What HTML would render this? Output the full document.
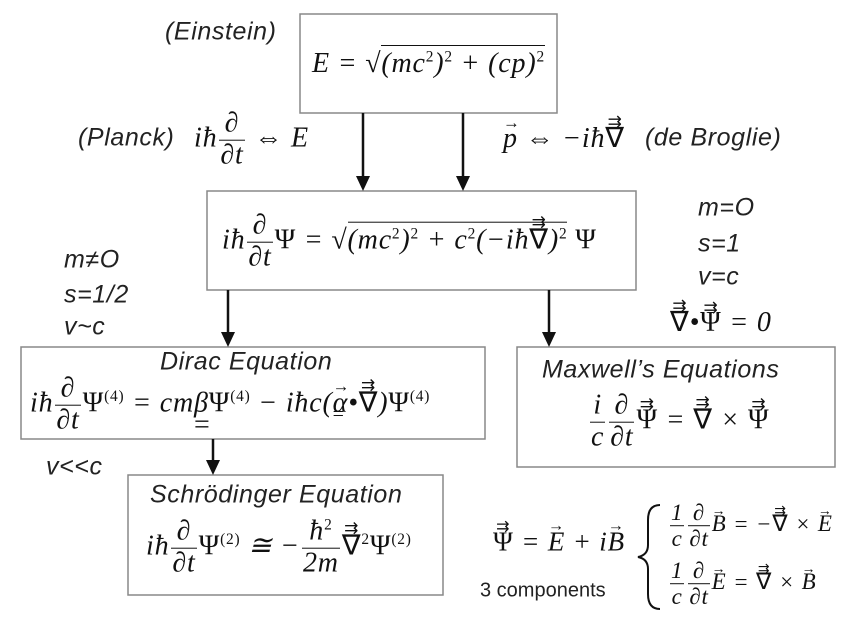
<!DOCTYPE html>
<html><head><meta charset="utf-8"><style>
body{margin:0;background:#fff;width:850px;height:637px;position:relative;overflow:hidden}
svg{position:absolute;left:0;top:0}
.a{position:absolute;white-space:nowrap;transform:translateY(-50%)}
.l{font-family:"Liberation Sans",sans-serif;font-style:italic;font-size:25px;letter-spacing:0.6px;color:#222}
.m{font-family:"Liberation Serif",serif;font-style:italic;font-size:28px;letter-spacing:0.8px;color:#111}
.f{display:inline-block;vertical-align:middle;text-align:center;margin:0 2px}
.f>span{display:block;line-height:1.1;padding:0 1px}
.f>span:first-child{border-bottom:1.3px solid #111}
.v{position:relative;display:inline-block}
.v::before{content:"→";position:absolute;top:-0.62em;left:0;right:0;text-align:center;font-size:0.6em;font-style:normal}
.w::before{content:"⇉";}
.sq{border-top:1.5px solid #111;padding-top:2px}
sup{font-size:0.55em;font-style:normal}
.up{font-style:normal}
</style></head><body>
<svg width="850" height="637" viewBox="0 0 850 637" xmlns="http://www.w3.org/2000/svg">
<g fill="none" stroke="#888" stroke-width="1.5">
<rect x="300" y="14" width="257" height="99"/>
<rect x="207" y="191" width="429" height="99"/>
<rect x="21" y="347" width="464" height="92"/>
<rect x="517" y="347" width="318" height="120"/>
<rect x="128" y="475" width="315" height="120"/>
</g>
<g stroke="#111" stroke-width="2.5">
<line x1="363" y1="113" x2="363" y2="178"/><path d="M356,176 L370,176 L363,191 Z" fill="#111" stroke="none"/>
<line x1="463" y1="113" x2="463" y2="178"/><path d="M456,176 L470,176 L463,191 Z" fill="#111" stroke="none"/>
<line x1="228" y1="290" x2="228" y2="334"/><path d="M221,332 L235,332 L228,347 Z" fill="#111" stroke="none"/>
<line x1="549" y1="290" x2="549" y2="334"/><path d="M542,332 L556,332 L549,347 Z" fill="#111" stroke="none"/>
<line x1="213" y1="439" x2="213" y2="462"/><path d="M206,460 L220,460 L213,475 Z" fill="#111" stroke="none"/>
</g>
<path d="M660,505 Q648,505 648,520 L648,545 Q648,555 638,557 Q648,559 648,569 L648,594 Q648,609 660,609" fill="none" stroke="#111" stroke-width="2"/>
</svg>

<div class="a l" style="left:165px;top:32px">(Einstein)</div>
<div class="a m" style="left:312px;top:64px">E = √<span class="sq">(mc<sup>2</sup>)<sup>2</sup> + (cp)<sup>2</sup></span></div>

<div class="a l" style="left:78px;top:138px">(Planck)</div>
<div class="a m" style="left:194px;top:140px">iħ<span class="f"><span>∂</span><span>∂t</span></span> ⇔ E</div>
<div class="a m" style="left:503px;top:138px"><span class="v">p</span> ⇔ −iħ<span class="v w up">∇</span></div>
<div class="a l" style="left:645px;top:138px">(de Broglie)</div>

<div class="a m" style="left:222px;top:242px">iħ<span class="f"><span>∂</span><span>∂t</span></span><span class="up">Ψ</span> = √<span class="sq">(mc<sup>2</sup>)<sup>2</sup> + c<sup>2</sup>(−iħ<span class="v w up">∇</span>)<sup>2</sup></span> <span class="up">Ψ</span></div>

<div class="a l" style="left:698px;top:208px">m=O</div>
<div class="a l" style="left:698px;top:244px">s=1</div>
<div class="a l" style="left:698px;top:277px">v=c</div>
<div class="a m" style="left:670px;top:322px"><span class="v w up">∇</span>•<span class="v w up">Ψ</span> = 0</div>

<div class="a l" style="left:64px;top:260px">m≠O</div>
<div class="a l" style="left:64px;top:295px">s=1/2</div>
<div class="a l" style="left:64px;top:327px">v~c</div>

<div class="a l" style="left:160px;top:362px">Dirac Equation</div>
<div class="a m" style="left:30px;top:405px">iħ<span class="f"><span>∂</span><span>∂t</span></span><span class="up">Ψ</span><sup>(4)</sup> = cm<span style="position:relative">β<span style="position:absolute;left:0;top:22px;font-style:normal">=</span></span><span class="up">Ψ</span><sup>(4)</sup> − iħc(<span class="v" style="position:relative">α<span style="position:absolute;left:0;top:16px;font-style:normal;font-size:20px">=</span></span>•<span class="v w up">∇</span>)<span class="up">Ψ</span><sup>(4)</sup></div>

<div class="a l" style="left:542px;top:370px">Maxwell’s Equations</div>
<div class="a m" style="left:588px;top:422px"><span class="f"><span>i</span><span>c</span></span><span class="f"><span>∂</span><span>∂t</span></span><span class="v w up">Ψ</span> = <span class="v w up">∇</span> × <span class="v w up">Ψ</span></div>

<div class="a l" style="left:46px;top:467px">v&lt;&lt;c</div>
<div class="a l" style="left:150px;top:495px">Schrödinger Equation</div>
<div class="a m" style="left:146px;top:548px">iħ<span class="f"><span>∂</span><span>∂t</span></span><span class="up">Ψ</span><sup>(2)</sup> ≅ −<span class="f"><span>ħ<sup>2</sup></span><span>2m</span></span><span class="v w up">∇</span><sup>2</sup><span class="up">Ψ</span><sup>(2)</sup></div>

<div class="a m" style="left:493px;top:542px;font-size:27px"><span class="v w up">Ψ</span> = <span class="v">E</span> + i<span class="v">B</span></div>
<div class="a" style="left:480px;top:591px;font-family:'Liberation Sans',sans-serif;font-size:20px;color:#222">3 components</div>
<div class="a m" style="left:668px;top:526px;font-size:23px"><span class="f"><span>1</span><span>c</span></span><span class="f"><span>∂</span><span>∂t</span></span><span class="v">B</span> = −<span class="v w up">∇</span> × <span class="v">E</span></div>
<div class="a m" style="left:668px;top:584px;font-size:23px"><span class="f"><span>1</span><span>c</span></span><span class="f"><span>∂</span><span>∂t</span></span><span class="v">E</span> = <span class="v w up">∇</span> × <span class="v">B</span></div>
</body></html>
